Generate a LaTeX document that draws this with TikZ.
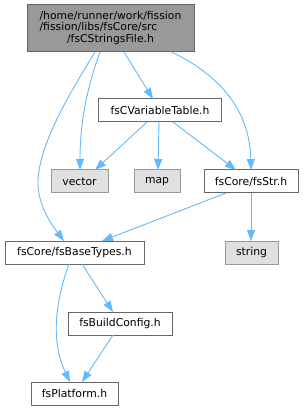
\documentclass[tikz,border=0pt]{standalone}
\usepackage{fontspec}
\setmainfont{DejaVu Sans}
\usetikzlibrary{arrows.meta}
\definecolor{edgec}{HTML}{63B8FF}
\definecolor{topfill}{HTML}{999999}
\definecolor{nborder}{HTML}{666666}
\definecolor{extfill}{HTML}{E0E0E0}
\definecolor{extborder}{HTML}{999999}
\begin{document}
\begin{tikzpicture}[x=1pt,y=-1pt,
  every node/.style={font=\fontsize{10.8}{11.6}\selectfont, inner sep=0pt, outer sep=0pt, line width=1pt},
  filebox/.style={draw=nborder, fill=white, minimum height=23pt},
  extbox/.style={draw=extborder, fill=extfill, minimum height=23pt},
  topbox/.style={draw=nborder, fill=topfill, minimum height=47pt},
  dep/.style={draw=edgec, line width=0.9pt, -{Triangle[length=11pt,width=8pt]}}]
\useasboundingbox (0,0) rectangle (305,411);
\node[topbox, minimum width=167pt] (top) at (110.5,28.5)
  {\begin{tabular}{@{}l@{}}/home/runner/work/fission\\/fission/libs/fsCore/src\\\multicolumn{1}{@{}c@{}}{/fsCStringsFile.h}\end{tabular}};
\node[filebox, minimum width=123pt] (vt) at (160,110.5) {fsCVariableTable.h};
\node[extbox, minimum width=57pt] (vec) at (79.5,181.5) {vector};
\node[extbox, minimum width=46pt] (map) at (157,181.5) {map};
\node[filebox, minimum width=94pt] (str) at (251,181.5) {fsCore/fsStr.h};
\node[filebox, minimum width=139pt] (base) at (74.5,252.5) {fsCore/fsBaseTypes.h};
\node[extbox, minimum width=53pt] (string) at (251.5,252.5) {string};
\node[filebox, minimum width=104pt] (bc) at (120,323.5) {fsBuildConfig.h};
\node[filebox, minimum width=87pt] (plat) at (74.5,393.5) {fsPlatform.h};
% edges
\draw[dep] ([xshift=-15.5pt]top.south) .. controls (75,85) and (40,140) .. (38,180) .. controls (37,205) and (52,225) .. ([xshift=-10.5pt]base.north);
\draw[dep] ([xshift=-10.5pt]top.south) .. controls (88,85) and (80,120) .. ([xshift=0.5pt]vec.north);
\draw[dep] ([xshift=13.5pt]top.south) -- ([xshift=-7pt]vt.north);
\draw[dep] ([xshift=61pt]top.south) .. controls (230,80) and (250,120) .. ([xshift=0pt]str.north);
\draw[dep] ([xshift=-13pt]vt.south) -- ([xshift=15.5pt]vec.north);
\draw[dep] ([xshift=-1pt]vt.south) -- ([xshift=1pt]map.north);
\draw[dep] ([xshift=13pt]vt.south) -- ([xshift=-15pt]str.north);
\draw[dep] ([xshift=-25pt]str.south) -- ([xshift=27.5pt]base.north);
\draw[dep] (str.south) -- (str.south |- string.north);
\draw[dep] ([xshift=-5.5pt]base.south) .. controls (56,300) and (50,340) .. ([xshift=-4.5pt]plat.north);
\draw[dep] ([xshift=7.5pt]base.south) -- ([xshift=-7pt]bc.north);
\draw[dep] ([xshift=-7pt]bc.south) -- ([xshift=7.5pt]plat.north);
\end{tikzpicture}
\end{document}
